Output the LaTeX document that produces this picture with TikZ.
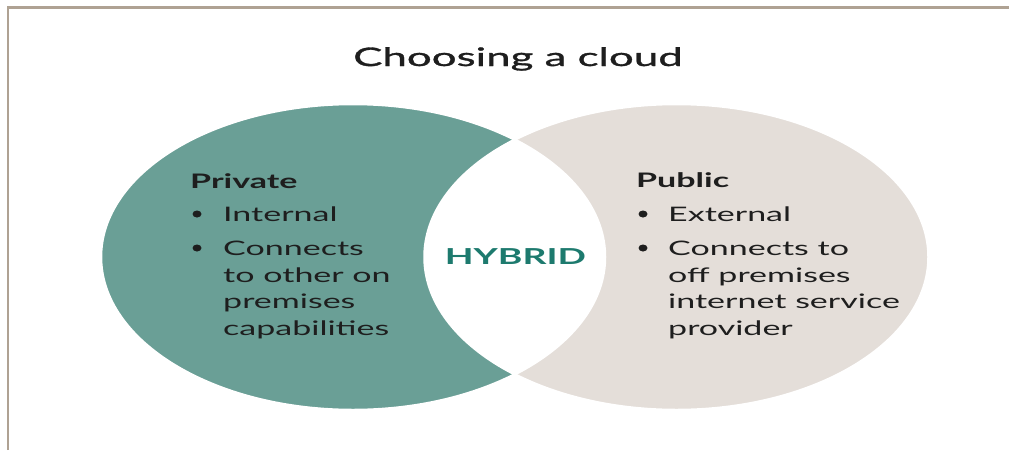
\documentclass[tikz,border=0pt]{standalone}
\usepackage{fontspec}
\setmainfont{Lato}[FakeStretch=1.7]
\newfontfamily\titlefont{Lato}[FakeStretch=1.72, FakeBold=1.2]
\usetikzlibrary{shapes.geometric}
\definecolor{framecol}{HTML}{AFA293}
\definecolor{privfill}{HTML}{6A9F96}
\definecolor{pubfill}{HTML}{E4DED9}
\definecolor{hybridcol}{HTML}{1D7A6E}
\definecolor{ink}{HTML}{1E1E1E}
\begin{document}
\begin{tikzpicture}[x=1pt,y=-1pt,
  txt/.style={anchor=base west, inner sep=0pt, text=ink, font=\fontsize{20}{24}\selectfont},
  head/.style={txt, font=\fontsize{20}{24}\selectfont\bfseries},
  dot/.style={ellipse, fill=ink, inner sep=0pt, minimum width=9pt, minimum height=7pt},
  cloudedge/.style={white, line width=2.5pt},
]
\useasboundingbox (0,0) rectangle (1009,450);
% frame lines along the top and left edges
\draw[framecol, line width=2.5pt] (8,450) -- (8,7.5) -- (1009,7.5);

% the two clouds, with the overlap left white
\fill[privfill] (353,257) ellipse [x radius=252pt, y radius=153pt];
\fill[pubfill] (676.5,257) ellipse [x radius=252pt, y radius=153pt];
\begin{scope}
  \clip (353,257) ellipse [x radius=252pt, y radius=153pt];
  \fill[white] (676.5,257) ellipse [x radius=252pt, y radius=153pt];
\end{scope}
\draw[cloudedge] (353,257) ellipse [x radius=252pt, y radius=153pt];
\draw[cloudedge] (676.5,257) ellipse [x radius=252pt, y radius=153pt];

% title
\node[anchor=base, inner sep=0pt, text=ink, font=\fontsize{25.5}{30}\titlefont] (title) at (518,66) {Choosing a cloud};

% hybrid label
\node[anchor=base, inner sep=0pt, text=hybridcol, font=\fontsize{22}{26}\selectfont\bfseries] (hybrid) at (515.5,264) {HYBRID};

% private cloud
\node[head] (privhead) at (190,188) {Private};
\node[dot] (pb1) at (197,214) {};
\node[txt] (pl1) at (223,221) {Internal};
\node[dot] (pb2) at (197,248) {};
\node[txt] (pl2) at (223,255) {Connects};
\node[txt] (pl3) at (223,282) {to other on};
\node[txt] (pl4) at (223,308) {premises};
\node[txt] (pl5) at (223,335) {capabilities};

% public cloud
\node[head] (pubhead) at (636,187) {Public};
\node[dot] (ub1) at (643,214) {};
\node[txt] (ul1) at (668,221) {External};
\node[dot] (ub2) at (643,248) {};
\node[txt] (ul2) at (668,255) {Connects to};
\node[txt] (ul3) at (668,282) {off premises};
\node[txt] (ul4) at (668,308) {internet service};
\node[txt] (ul5) at (668,335) {provider};
\end{tikzpicture}
\end{document}
